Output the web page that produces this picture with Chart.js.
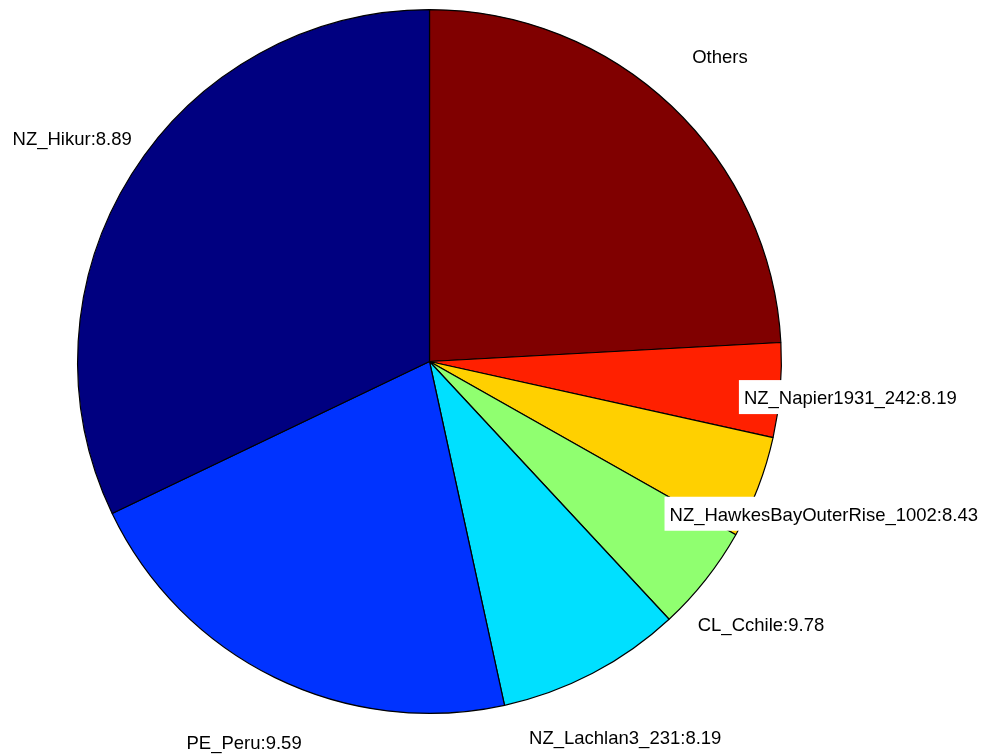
<!DOCTYPE html>
<html lang="en">
<head>
    <meta charset="UTF-8">
    <title>Pie chart</title>
    <style>
        html, body { margin: 0; padding: 0; background: #fff; }
        #pieChart { display: block; }
    </style>
</head>
<body>
    <canvas id="pieChart" width="989" height="756"></canvas>

    <script src="https://cdn.jsdelivr.net/npm/chart.js"></script>
    <script>
        // slices in clockwise order from the top (the original runs counter-clockwise)
        const sliceNames = [
            'Others',
            'NZ_Napier1931_242:8.19',
            'NZ_HawkesBayOuterRise_1002:8.43',
            'CL_Cchile:9.78',
            'NZ_Lachlan3_231:8.19',
            'PE_Peru:9.59',
            'NZ_Hikur:8.89'
        ];
        const sliceShares = [24.14, 4.33, 4.72, 4.89, 8.50, 21.31, 32.11];
        const sliceColors = ['#800000', '#ff2000', '#ffd000', '#90ff70', '#00e0ff', '#0033ff', '#000080'];

        // text labels at 1.2 x radius, centred, with a white box behind them
        const pieLabels = {
            id: 'pieLabels',
            afterDatasetsDraw(chart) {
                const ctx = chart.ctx;
                const meta = chart.getDatasetMeta(0);
                ctx.save();
                ctx.font = '18.5px "Liberation Sans", Arial, sans-serif';
                ctx.textAlign = 'center';
                ctx.textBaseline = 'middle';
                meta.data.forEach((arc, i) => {
                    const p = arc.getProps(['x', 'y', 'startAngle', 'endAngle', 'outerRadius'], true);
                    const mid = (p.startAngle + p.endAngle) / 2;
                    const r = p.outerRadius * 1.2;
                    const tx = p.x + Math.cos(mid) * r;
                    const ty = p.y + Math.sin(mid) * r + 2;
                    const txt = chart.data.labels[i];
                    const w = ctx.measureText(txt).width;
                    ctx.fillStyle = '#fff';
                    ctx.fillRect(tx - w / 2 - 5, ty - 18, w + 10, 34);
                    ctx.fillStyle = '#000';
                    ctx.fillText(txt, tx, ty + 1);
                });
                ctx.restore();
            }
        };

        new Chart(document.getElementById('pieChart'), {
            type: 'pie',
            data: {
                labels: sliceNames,
                datasets: [{
                    data: sliceShares,
                    backgroundColor: sliceColors,
                    borderColor: '#000',
                    borderWidth: 1.2
                }]
            },
            options: {
                responsive: false,
                animation: false,
                layout: { padding: { left: 77, top: 9, right: 207, bottom: 42 } },
                plugins: {
                    legend: { display: false },
                    tooltip: { enabled: false }
                }
            },
            plugins: [pieLabels]
        });
    </script>
</body>
</html>
